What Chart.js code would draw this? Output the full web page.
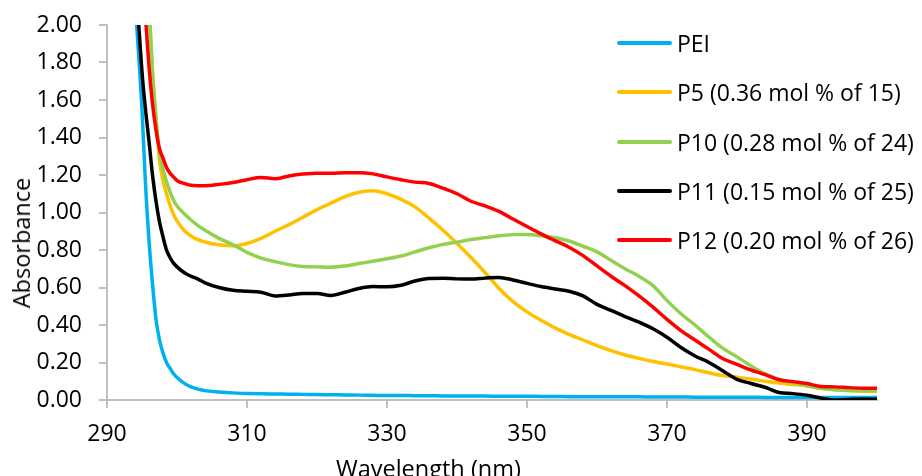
<!DOCTYPE html>
<html>
<head>
<meta charset="utf-8">
<script src="https://cdn.jsdelivr.net/npm/chart.js@4"></script>
<style>
  body { margin: 0; background: #fff; overflow: hidden; }
  .wrap { position: relative; width: 922px; height: 476px; font-family: "Open Sans", sans-serif; color: #000; }
  .legend { position: absolute; left: 617px; top: 0; }
  .legend .row { position: absolute; left: 0; height: 30px; display: flex; align-items: center; white-space: nowrap; font-size: 23px; }
  .legend .swatch { width: 55px; height: 4px; border-radius: 2px; margin-right: 5px; }
  .xtitle { position: absolute; left: 336px; top: 452px; font-size: 23.5px; white-space: nowrap; }
  .ytitle { position: absolute; left: 21px; top: 243px; font-size: 23.5px; white-space: nowrap; transform: translate(-50%, -50%) rotate(-90deg); }
</style>
</head>
<body>
<div class="wrap">
  <canvas id="chart" width="922" height="476"></canvas>
  <div class="legend" id="legend"></div>
  <div class="xtitle">Wavelength (nm)</div>
  <div class="ytitle">Absorbance</div>
</div>
<script>
// wavelength (nm)
const wavelengths = [293, 294, 295, 295.5, 296, 296.5, 297, 297.5, 298, 298.5, 299, 299.5, 300, 301, 302, 303, 304,
  306, 308, 310, 312, 314, 316, 318, 320, 322, 324, 326, 328, 330, 332, 334, 336, 338, 340, 342, 344, 346, 348,
  350, 352, 354, 356, 358, 360, 362, 364, 366, 368, 370, 372, 374, 376, 378, 380, 382, 384, 386, 388, 390, 392,
  394, 396, 398, 400];

const pei = [2.9, 2.15, 1.55, 1.15, 0.85, 0.62, 0.43, 0.32, 0.25, 0.2, 0.17, 0.14, 0.12, 0.09, 0.07, 0.058, 0.05,
  0.043, 0.038, 0.035, 0.033, 0.032, 0.031, 0.03, 0.029, 0.028, 0.027, 0.026, 0.025, 0.024, 0.024, 0.023, 0.023,
  0.022, 0.022, 0.021, 0.021, 0.02, 0.02, 0.02, 0.019, 0.019, 0.018, 0.018, 0.018, 0.017, 0.017, 0.017, 0.016,
  0.016, 0.016, 0.015, 0.015, 0.015, 0.015, 0.015, 0.014, 0.014, 0.014, 0.014, 0.014, 0.014, 0.014, 0.014, 0.014];

const p5 = [5, 4, 3, 2.5, 2.1, 1.75, 1.5, 1.28, 1.17, 1.1, 1.04, 0.99, 0.955, 0.905, 0.875, 0.855, 0.843,
  0.828, 0.823, 0.835, 0.862, 0.9, 0.935, 0.975, 1.015, 1.05, 1.085, 1.108, 1.116, 1.1, 1.07, 1.03, 0.97,
  0.905, 0.835, 0.76, 0.68, 0.595, 0.525, 0.47, 0.425, 0.385, 0.35, 0.32, 0.29, 0.263, 0.24, 0.222, 0.205,
  0.192, 0.177, 0.162, 0.145, 0.13, 0.122, 0.112, 0.1, 0.09, 0.083, 0.075, 0.062, 0.055, 0.05, 0.047, 0.046];

const p10 = [5, 4, 3, 2.5, 2.1, 1.75, 1.5, 1.32, 1.23, 1.165, 1.11, 1.065, 1.035, 0.995, 0.96, 0.93, 0.905,
  0.862, 0.828, 0.787, 0.757, 0.738, 0.722, 0.712, 0.71, 0.708, 0.715, 0.728, 0.74, 0.753, 0.768, 0.79, 0.812,
  0.83, 0.842, 0.856, 0.866, 0.876, 0.882, 0.883, 0.876, 0.865, 0.848, 0.82, 0.79, 0.745, 0.7, 0.66, 0.61,
  0.53, 0.46, 0.4, 0.335, 0.275, 0.23, 0.182, 0.14, 0.11, 0.092, 0.077, 0.062, 0.055, 0.051, 0.05, 0.05];

const p11 = [3.2, 2.35, 1.75, 1.55, 1.38, 1.2, 1.06, 0.95, 0.87, 0.8, 0.76, 0.73, 0.71, 0.68, 0.66, 0.645, 0.625,
  0.6, 0.585, 0.58, 0.575, 0.555, 0.56, 0.568, 0.568, 0.558, 0.575, 0.595, 0.605, 0.604, 0.612, 0.635, 0.648,
  0.649, 0.646, 0.645, 0.65, 0.654, 0.64, 0.622, 0.605, 0.592, 0.58, 0.555, 0.51, 0.478, 0.445, 0.415, 0.38,
  0.335, 0.28, 0.235, 0.2, 0.155, 0.11, 0.088, 0.068, 0.04, 0.034, 0.025, 0.01, 0.0, 0.003, 0.005, 0.004];

const p12 = [4, 3.2, 2.4, 2.05, 1.78, 1.58, 1.44, 1.34, 1.29, 1.24, 1.21, 1.19, 1.17, 1.155, 1.145, 1.143, 1.143,
  1.15, 1.16, 1.175, 1.187, 1.18, 1.195, 1.205, 1.21, 1.21, 1.212, 1.212, 1.206, 1.19, 1.175, 1.162, 1.155,
  1.13, 1.1, 1.06, 1.035, 1.006, 0.965, 0.925, 0.886, 0.85, 0.815, 0.77, 0.715, 0.66, 0.61, 0.555, 0.495,
  0.43, 0.37, 0.32, 0.27, 0.22, 0.19, 0.16, 0.135, 0.108, 0.098, 0.088, 0.072, 0.07, 0.066, 0.063, 0.062];

const seriesNames = ["PEI", "P5 (0.36 mol % of 15)", "P10 (0.28 mol % of 24)", "P11 (0.15 mol % of 25)", "P12 (0.20 mol % of 26)"];
const seriesValues = [pei, p5, p10, p11, p12];
const seriesColors = ["#00b0f0", "#ffc000", "#92d050", "#000000", "#ff0000"];

const xTicks = [290, 310, 330, 350, 370, 390];

const toPoints = vals => wavelengths.map((x, i) => ({ x: x, y: vals[i] }));

const datasets = seriesNames.map((name, i) => ({
  label: name,
  data: toPoints(seriesValues[i]),
  borderColor: seriesColors[i],
  backgroundColor: seriesColors[i],
  borderWidth: 3.5,
  pointRadius: 0,
  cubicInterpolationMode: "monotone",
  order: seriesNames.length - i // later series drawn on top, like Excel
}));

Chart.defaults.font.family = "'Open Sans', sans-serif";
Chart.defaults.font.size = 23;
Chart.defaults.color = "#000";

new Chart(document.getElementById("chart"), {
  type: "line",
  data: { datasets },
  options: {
    responsive: false,
    animation: false,
    layout: { padding: { top: 25, right: 45, left: 0, bottom: 0 } },
    plugins: { legend: { display: false }, tooltip: { enabled: false } },
    scales: {
      x: {
        type: "linear",
        min: 290,
        max: 400,
        afterBuildTicks: axis => { axis.ticks = xTicks.map(v => ({ value: v })); },
        afterFit: axis => { axis.height = 76; },
        ticks: { padding: 13, maxRotation: 0, autoSkip: false },
        grid: { drawOnChartArea: false, tickLength: 8, color: "#bfbfbf", lineWidth: 2 },
        border: { color: "#bfbfbf", width: 2 }
      },
      y: {
        min: 0,
        max: 2,
        afterFit: axis => {
          axis.width = 107;
          // keep the label padding from pushing the plot down; layout padding sets the top
          axis.paddingTop = 0;
          axis.paddingBottom = 0;
        },
        ticks: { stepSize: 0.2, padding: 17, callback: v => v.toFixed(2) },
        grid: { drawOnChartArea: false, tickLength: 8, color: "#bfbfbf", lineWidth: 2 },
        border: { color: "#bfbfbf", width: 2 }
      }
    }
  }
});

// legend sits inside the plot, on the right
const legendTops = [28, 77, 127, 176, 225];
const legend = document.getElementById("legend");
seriesNames.forEach((name, i) => {
  const row = document.createElement("div");
  row.className = "row";
  row.style.top = legendTops[i] + "px";
  row.innerHTML = '<span class="swatch" style="background:' + seriesColors[i] + '"></span><span>' + name + "</span>";
  legend.appendChild(row);
});
</script>
</body>
</html>
